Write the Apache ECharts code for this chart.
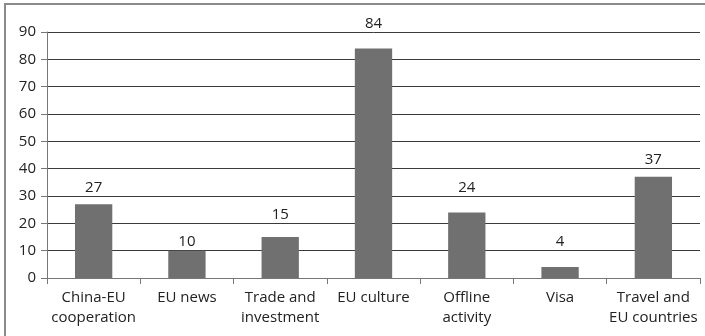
<!DOCTYPE html>
<html>
<head>
<meta charset="utf-8">
<script src="https://cdn.jsdelivr.net/npm/echarts@6/dist/echarts.min.js"></script>
<style>
  html, body { margin: 0; padding: 0; background: #fff; }
  #chart { width: 705px; height: 336px; }
</style>
</head>
<body>
<div id="chart"></div>
<script>
// Topic categories and number of mentions per topic
const categories = [
  'China-EU\ncooperation',
  'EU news',
  'Trade and\ninvestment',
  'EU culture',
  'Offline\nactivity',
  'Visa',
  'Travel and\nEU countries'
];
const counts = [27, 10, 15, 84, 24, 4, 37];
const yMin = 0;
const yMax = 90;
const yStep = 10;

const FONT = '"Open Sans", Lato, sans-serif';
const chart = echarts.init(document.getElementById('chart'), null, { renderer: 'canvas' });

chart.setOption({
  animation: false,
  backgroundColor: '#fff',
  graphic: [{
    type: 'rect',
    shape: { x: 5, y: 4, width: 760, height: 400 },
    style: { fill: 'none', stroke: '#8a8a8a', lineWidth: 2 },
    silent: true,
    z: -1
  }],
  grid: { left: 47, right: 5, top: 32, bottom: 58, containLabel: false },
  xAxis: {
    type: 'category',
    data: categories,
    axisLine: { show: true, lineStyle: { color: '#777', width: 1 } },
    axisTick: { show: true, length: 6, lineStyle: { color: '#777' } },
    axisLabel: {
      interval: 0,
      margin: 10,
      fontFamily: FONT,
      fontSize: 15,
      color: '#222',
      lineHeight: 20,
      align: 'center'
    },
    splitLine: { show: false }
  },
  yAxis: {
    type: 'value',
    min: yMin,
    max: yMax,
    interval: yStep,
    axisLine: { show: true, lineStyle: { color: '#777', width: 1 } },
    axisTick: { show: true, length: 6, lineStyle: { color: '#777' } },
    axisLabel: {
      margin: 11,
      fontFamily: FONT,
      fontSize: 15,
      color: '#222'
    },
    splitLine: { show: true, lineStyle: { color: '#3a3a3a', width: 1 } }
  },
  series: [{
    type: 'bar',
    data: counts,
    barWidth: '40%',
    itemStyle: { color: '#707070' },
    label: {
      show: true,
      position: 'top',
      distance: 10,
      fontFamily: FONT,
      fontSize: 15,
      color: '#222'
    }
  }]
});

// Each value label sits in the white band just above the first gridline
// at or above its bar, so it never crosses a gridline.
const labelGap = 1;
const labelled = counts.map(function (v, i) {
  const gridVal = Math.ceil(v / yStep) * yStep;
  const barTop = chart.convertToPixel({ gridIndex: 0 }, [i, v])[1];
  const lineY = chart.convertToPixel({ gridIndex: 0 }, [i, gridVal])[1];
  return { value: v, label: { distance: barTop - lineY + labelGap } };
});
chart.setOption({ series: [{ data: labelled }] });
</script>
</body>
</html>
